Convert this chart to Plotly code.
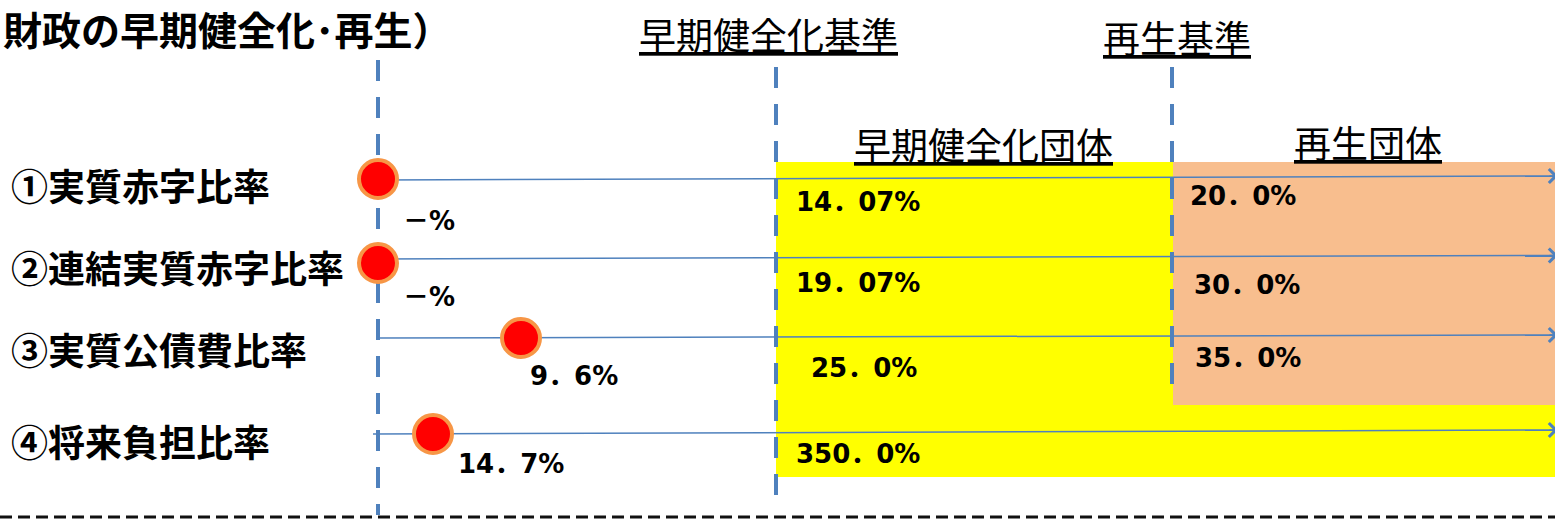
import plotly.graph_objects as go

# ---------------- data ----------------
title_text = "財政の早期健全化･再生）"
indicators = ["①実質赤字比率", "②連結実質赤字比率", "③実質公債費比率", "④将来負担比率"]
current_labels = ["－%", "－%", "9．6%", "14．7%"]
early_labels = ["14．07%", "19．07%", "25．0%", "350．0%"]
revival_labels = ["20．0%", "30．0%", "35．0%"]
header_labels = ["早期健全化基準", "再生基準"]
zone_labels = ["早期健全化団体", "再生団体"]

# ---------------- layout positions (pixel-like data coords) ----------------
W, H = 1555, 521
row_label_pos = [(9, 185), (9, 267), (9, 349), (9, 441)]
line_start = [(378, 180), (378, 259), (378, 338), (373, 434)]
line_end = [(1558, 176), (1558, 255.5), (1558, 335), (1558, 430)]
marker_pos = [(378, 179), (378, 263), (521, 338), (433, 434)]
current_pos = [(429, 221), (429, 297), (574, 376), (511, 464)]
early_pos = [(794, 202), (794, 283), (809, 368), (794, 454)]
revival_pos = [(1188, 196), (1192, 285), (1193, 358)]
header_pos = [(768, 34), (1177, 37)]
zone_pos = [(983, 144), (1368, 142)]
vlines = [(378, 60, 515), (776, 67, 497), (1172, 67, 385)]

BLUE = "#4F81BD"
FONT = "Noto Sans CJK JP"
NUMFONT = "DejaVu Sans, Noto Sans CJK JP"

fig = go.Figure()

shapes = [
    dict(type="rect", xref="x", yref="y", x0=776, x1=1560, y0=162, y1=477,
         fillcolor="#FFFF00", line=dict(width=0), layer="below"),
    dict(type="rect", xref="x", yref="y", x0=1173, x1=1560, y0=162, y1=405,
         fillcolor="#F8BE8E", line=dict(width=0), layer="below"),
]
for x, y0, y1 in vlines:
    shapes.append(dict(type="line", xref="x", yref="y", x0=x, x1=x, y0=y0, y1=y1,
                       line=dict(color=BLUE, width=4, dash="21px,16px"), layer="below"))
shapes.append(dict(type="line", xref="x", yref="y", x0=0, x1=W, y0=517, y1=517,
                   line=dict(color="#111111", width=3, dash="12px,6px"), layer="below"))

# horizontal lines
for (xs, ys), (xe, ye) in zip(line_start, line_end):
    fig.add_trace(go.Scatter(x=[xs, xe], y=[ys, ye], mode="lines",
                             line=dict(color=BLUE, width=1.5), hoverinfo="skip",
                             showlegend=False))

# markers
fig.add_trace(go.Scatter(
    x=[p[0] for p in marker_pos], y=[p[1] for p in marker_pos], mode="markers",
    marker=dict(size=38, color="#FF0000", line=dict(color="#F79646", width=4)),
    hoverinfo="skip", showlegend=False))

annotations = []
# arrowheads
for (xs, ys), (xe, ye) in zip(line_start, line_end):
    annotations.append(dict(x=xe, y=ye, ax=xe - 10, ay=ye - (ye - ys) * 10 / (xe - xs),
                            xref="x", yref="y", axref="x", ayref="y", text="",
                            showarrow=True, arrowhead=4, arrowsize=1.8, arrowwidth=1.5,
                            arrowcolor=BLUE))

annotations.append(dict(x=1, y=28, xref="x", yref="y", text="<b>" + title_text + "</b>",
                        showarrow=False, xanchor="left", yanchor="middle",
                        font=dict(family=FONT, size=39, color="#000000")))
for (x, y), t in zip(row_label_pos, indicators):
    annotations.append(dict(x=x, y=y, xref="x", yref="y", text="<b>" + t + "</b>",
                            showarrow=False, xanchor="left", yanchor="middle",
                            font=dict(family=FONT, size=37, color="#000000")))
for (x, y), t in zip(header_pos, header_labels):
    annotations.append(dict(x=x, y=y, xref="x", yref="y", text="<u>" + t + "</u>",
                            showarrow=False, xanchor="center", yanchor="middle",
                            font=dict(family=FONT, size=37, color="#000000")))
for (x, y), t in zip(zone_pos, zone_labels):
    annotations.append(dict(x=x, y=y, xref="x", yref="y", text="<u>" + t + "</u>",
                            showarrow=False, xanchor="center", yanchor="middle",
                            font=dict(family=FONT, size=37, color="#000000")))
for (x, y), t in zip(current_pos, current_labels):
    annotations.append(dict(x=x, y=y, xref="x", yref="y", text="<b>" + t + "</b>",
                            showarrow=False, xanchor="center", yanchor="middle",
                            font=dict(family=NUMFONT, size=26, color="#000000")))
for (x, y), t in zip(early_pos, early_labels):
    annotations.append(dict(x=x, y=y, xref="x", yref="y", text="<b>" + t + "</b>",
                            showarrow=False, xanchor="left", yanchor="middle",
                            font=dict(family=NUMFONT, size=26, color="#000000")))
for (x, y), t in zip(revival_pos, revival_labels):
    annotations.append(dict(x=x, y=y, xref="x", yref="y", text="<b>" + t + "</b>",
                            showarrow=False, xanchor="left", yanchor="middle",
                            font=dict(family=NUMFONT, size=26, color="#000000")))

fig.update_layout(
    width=W, height=H, margin=dict(l=0, r=0, t=0, b=0),
    paper_bgcolor="#FFFFFF", plot_bgcolor="#FFFFFF",
    xaxis=dict(range=[0, W], visible=False, fixedrange=True),
    yaxis=dict(range=[H, 0], visible=False, fixedrange=True),
    shapes=shapes, annotations=annotations,
)

fig.write_html("out.html", config={"displayModeBar": False},
               post_script="document.body.style.margin='0';document.body.style.overflow='hidden';")
